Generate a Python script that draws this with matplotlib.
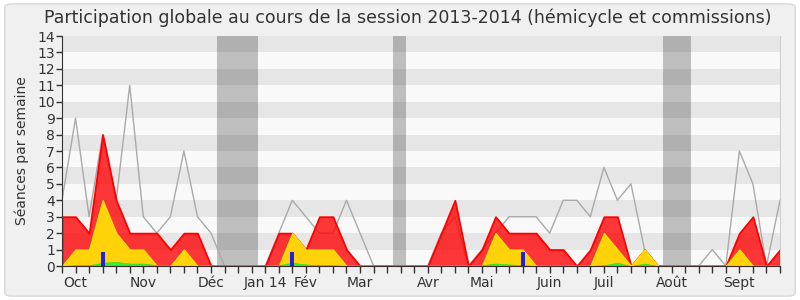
import matplotlib
matplotlib.use("Agg")
import matplotlib.pyplot as plt
from matplotlib.patches import FancyBboxPatch
import numpy as np

plt.rcParams['font.family'] = ['DejaVu Sans']

title = "Participation globale au cours de la session 2013-2014 (hémicycle et commissions)"
ylabel = "Séances par semaine"

weeks = list(range(54))
red = [3, 3, 2, 8, 4, 2, 2, 2, 1, 2, 2, 0, 0, 0, 0, 0, 2, 2, 1, 3, 3, 1, 0, 0, 0, 0, 0, 0,
       2, 4, 0, 1, 3, 2, 2, 2, 1, 1, 0, 1, 3, 3, 0, 1, 0, 0, 0, 0, 0, 0, 2, 3, 0, 1]
yellow = [0, 1, 1, 4, 2, 1, 1, 0, 0, 1, 0, 0, 0, 0, 0, 0, 0, 2, 1, 1, 1, 0, 0, 0, 0, 0, 0, 0,
          0, 0, 0, 0, 2, 1, 1, 0, 0, 0, 0, 0, 2, 1, 0, 1, 0, 0, 0, 0, 0, 0, 1, 0, 0, 0]
green = [0, 0.05, 0.05, 0.2, 0.25, 0.15, 0.15, 0.05, 0, 0, 0, 0, 0, 0, 0, 0, 0.05, 0.2, 0.1, 0.05,
         0.05, 0, 0, 0, 0, 0, 0, 0, 0, 0, 0, 0.05, 0.15, 0.1, 0.05, 0, 0, 0, 0, 0, 0.05, 0.2, 0,
         0.15, 0, 0, 0, 0, 0, 0, 0, 0, 0, 0]
gray = [4, 9, 3, 8, 4, 11, 3, 2, 3, 7, 3, 2, 0, 0, 0, 0, 2, 4, 3, 2, 2, 4, 2, 0, 0, 0, 0, 0,
        2, 3, 0, 1, 2, 3, 3, 3, 2, 4, 4, 3, 6, 4, 5, 1, 0, 0, 0, 0, 1, 0, 7, 5, 0, 4]
blue_weeks = [3, 17, 34]
blue_vals = [0.85, 0.85, 0.85]
vac_start = [11.44, 24.43, 44.4]
vac_end = [14.44, 25.4, 46.45]
month_pos = [1, 6, 11, 15, 18, 22, 27, 31, 36, 40, 45, 50]
month_labels = ["Oct", "Nov", "Déc", "Jan 14", "Fév", "Mar", "Avr", "Mai", "Juin", "Juil", "Août", "Sept"]

fig = plt.figure(figsize=(8, 3), dpi=100)
fig.patch.set_facecolor('white')
bg = FancyBboxPatch((0.006, 0.013), 0.988, 0.974, boxstyle="round,pad=0,rounding_size=0.01",
                    transform=fig.transFigure, facecolor='#f0f0f0', edgecolor='#dcdcdc', lw=1.2, zorder=-10)
fig.patches.append(bg)

ax = fig.add_axes([0.0775, 0.1133, 0.8975, 0.7667])
ax.set_zorder(1)
ax.set_xlim(0, 53)
ax.set_ylim(0, 14)
ax.set_facecolor('#f9f9f9')

for k in range(14):
    if k % 2 == 1:
        ax.axhspan(k, k + 1, color='#e6e6e6', lw=0, zorder=0.5)
for s, e in zip(vac_start, vac_end):
    ax.axvspan(s, e, color='#181818', alpha=0.26, lw=0, zorder=0.6)

ax.plot(weeks, gray, color='#aaaaaa', lw=1.0, zorder=1.5)
ax.fill_between(weeks, 0, red, facecolor=(1.0, 0.0, 0.0, 0.78), edgecolor='#ff0000', lw=1.3, zorder=2)
ax.fill_between(weeks, 0, yellow, facecolor='#ffd20a', edgecolor='#ffe600', lw=1.0, zorder=3)
ax.fill_between(weeks, 0, green, facecolor='#33ee33', edgecolor='#22dd22', lw=0.4, zorder=4)
ax.bar(blue_weeks, blue_vals, width=0.3, color='#2020dd', zorder=5)

ax.set_yticks(range(15))
ax.set_yticklabels([str(v) for v in range(15)], fontsize=10, color='#333333')
labels = [''] * 54
for p, l in zip(month_pos, month_labels):
    labels[p] = l
ax.set_xticks(weeks)
ax.set_xticklabels(labels, fontsize=10, color='#333333')
ax.tick_params(axis='x', direction='out', length=5, width=1, color='#333333', pad=2)
ax.tick_params(axis='y', direction='out', length=4, width=1, color='#333333', pad=1)

top = ax.secondary_xaxis('top')
top.set_xticks(weeks)
top.set_xticklabels([])
top.tick_params(direction='in', length=1.5, width=0.8, color='#222222')
top.spines['top'].set_visible(False)

ax.spines['top'].set_visible(False)
ax.spines['right'].set_color('#d0d0d0')
ax.spines['left'].set_color('#333333')
ax.spines['bottom'].set_color('#3a2a2a')
ax.spines['bottom'].set_zorder(10)
ax.spines['left'].set_zorder(10)

ax.set_ylabel(ylabel, fontsize=10, color='#333333', labelpad=6)
fig.text(0.51, 0.942, title, ha='center', va='center', fontsize=12.5, color='#333333')

fig.savefig('out.png', dpi=100, facecolor=fig.get_facecolor())
